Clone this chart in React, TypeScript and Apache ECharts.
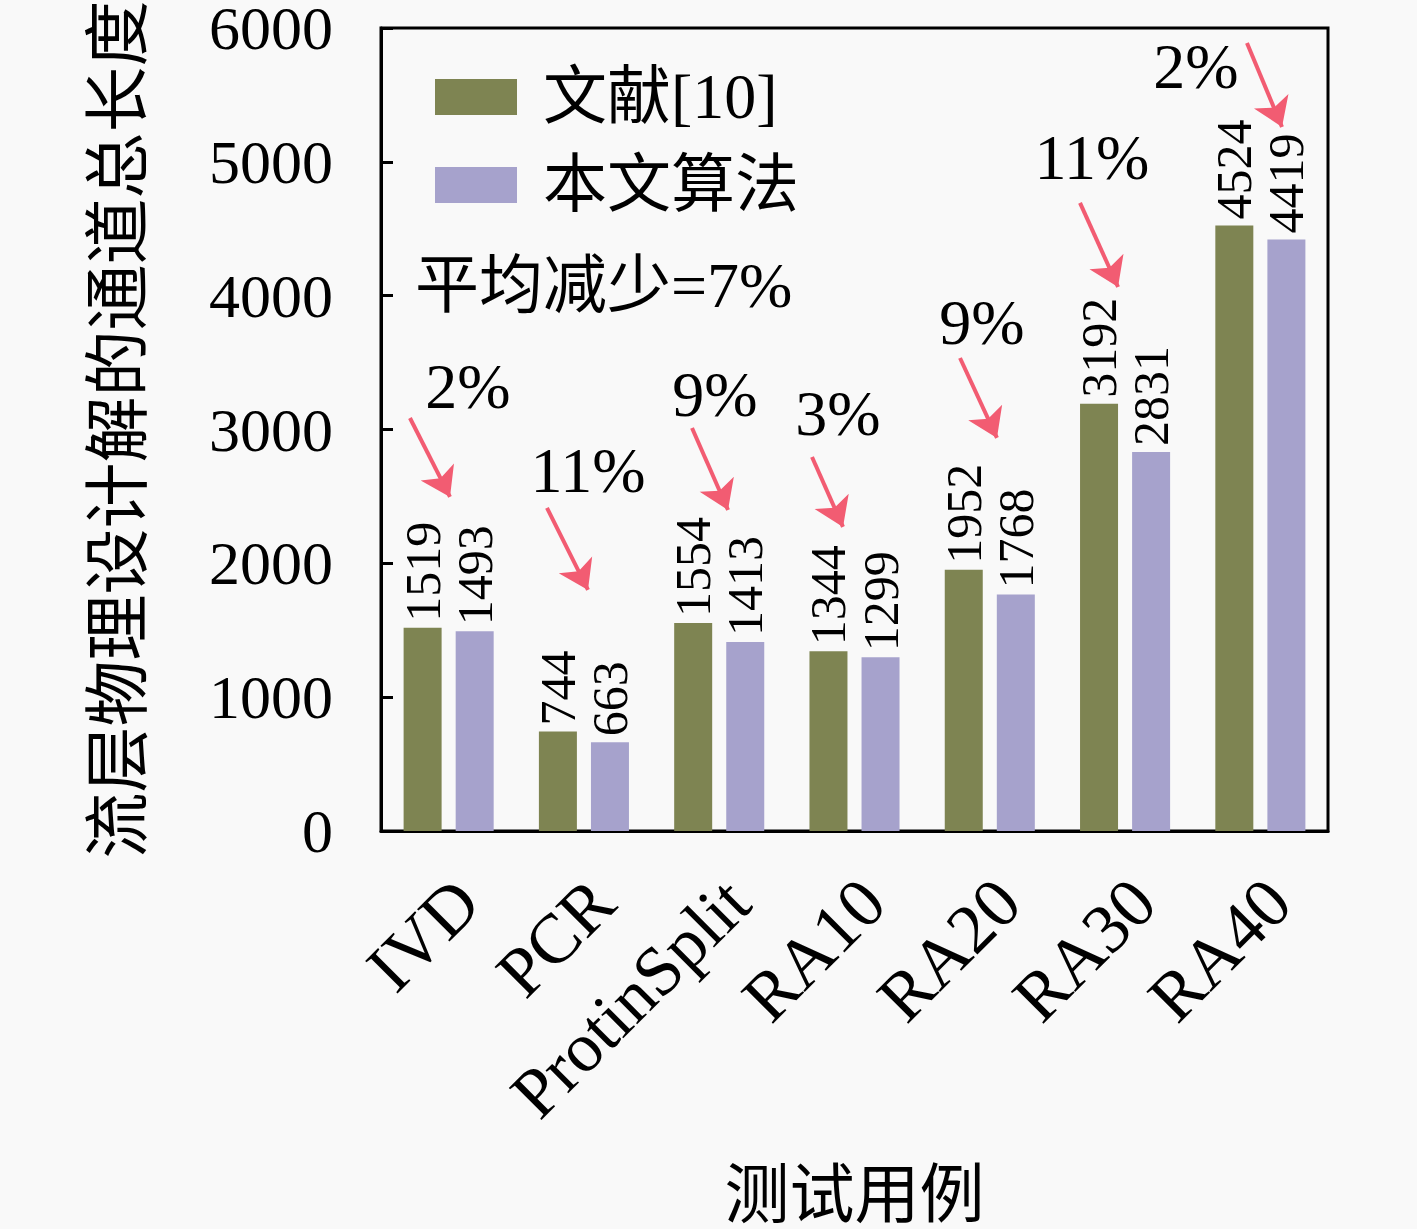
import React, { useEffect, useRef } from "react";
import * as echarts from "echarts";

const categories = ["IVD", "PCR", "ProtinSplit", "RA10", "RA20", "RA30", "RA40"];
const ref10Values = [1519, 744, 1554, 1344, 1952, 3192, 4524];
const oursValues = [1493, 663, 1413, 1299, 1768, 2831, 4419];
const yTicks = { min: 0, max: 6000, interval: 1000 };
const reductionLabels = ["2%", "11%", "9%", "3%", "9%", "11%", "2%"];
// positions in (category-index, value) space
const reductionLabelPos = [
  [0.143, 3318], [1.03, 2690], [1.969, 3258], [2.878, 3116],
  [3.942, 3796], [4.755, 5029], [5.524, 5709],
];
const arrowStart = [
  [-0.286, 3086], [0.727, 2414], [1.799, 3011], [2.686, 2795],
  [3.78, 3534], [4.667, 4693], [5.901, 5888],
];
const arrowEnd = [
  [0.01, 2496], [1.03, 1801], [2.065, 2399], [2.915, 2272],
  [4.053, 2937], [4.948, 4065], [6.16, 5260],
];
const seriesNames = ["文献[10]", "本文算法"];
const averageText = "平均减少=7%";
const xAxisTitle = "测试用例";
const yAxisTitle = "流层物理设计解的通道总长度";

const FONT = "'Liberation Serif', 'Noto Sans CJK SC', serif";
const NUMFONT = "Liberation Serif";
const GREEN = "#7e8452";
const PURPLE = "#a6a2cc";
const ARROW = "#f25c72";

export default function App() {
  const ref = useRef<HTMLDivElement>(null);
  useEffect(() => {
    document.body.style.margin = "0";
    const chart = echarts.init(ref.current!, undefined, { renderer: "svg" });
    const barLabel = () => ({
      show: true,
      position: "top",
      rotate: 90,
      align: "left",
      verticalAlign: "middle",
      distance: 6,
      fontFamily: NUMFONT,
      fontSize: 50,
      color: "#000",
    });
    chart.setOption({
      animation: false,
      backgroundColor: "#f9f9f9",
      textStyle: { fontFamily: FONT },
      grid: {
        left: 381,
        right: 89,
        top: 28,
        bottom: 398,
        outerBoundsMode: "none",
        containLabel: false,
        show: true,
        borderColor: "#000",
        borderWidth: 3,
        backgroundColor: "transparent",
      },
      legend: {
        orient: "vertical",
        left: 430,
        top: 60,
        icon: "rect",
        itemWidth: 82,
        itemHeight: 36,
        itemGap: 24,
        data: seriesNames,
        textStyle: {
          fontFamily: FONT,
          fontSize: 64,
          color: "#000",
          padding: [0, 0, 0, 21],
        },
      },
      xAxis: [
        {
          type: "category",
          data: categories,
          name: xAxisTitle,
          nameLocation: "middle",
          nameGap: 331,
          nameMoveOverlap: false,
          nameTextStyle: { fontFamily: FONT, fontSize: 65, color: "#000" },
          axisLine: { onZero: false, lineStyle: { color: "#000", width: 3 } },
          axisTick: { inside: true, length: 12, lineStyle: { color: "#000", width: 3 } },
          axisLabel: {
            interval: 0,
            rotate: 45,
            margin: 78,
            padding: [0, -26, 0, 0],
            fontFamily: NUMFONT,
            fontSize: 70,
            color: "#000",
          },
        },
        {
          type: "value",
          min: -0.5,
          max: 6.5,
          show: false,
          axisLine: { show: false, onZero: false },
          axisTick: { show: false },
          axisLabel: { show: false },
          splitLine: { show: false },
        },
      ],
      yAxis: {
        type: "value",
        min: yTicks.min,
        max: yTicks.max,
        interval: yTicks.interval,
        name: yAxisTitle,
        nameLocation: "middle",
        nameGap: 230,
        nameMoveOverlap: false,
        nameTextStyle: { fontFamily: FONT, fontSize: 66, color: "#000" },
        axisLine: { show: true, onZero: false, lineStyle: { color: "#000", width: 3 } },
        axisTick: { show: true, inside: true, length: 12, lineStyle: { color: "#000", width: 3 } },
        splitLine: { show: false },
        axisLabel: {
          margin: 48,
          fontFamily: NUMFONT,
          fontSize: 62,
          lineHeight: 50,
          color: "#000",
          formatter: (v: number) => String(v),
        },
      },
      graphic: [
        {
          type: "text",
          x: 415,
          y: 285,
          style: {
            text: averageText,
            fontFamily: FONT,
            fontSize: 64,
            fill: "#000",
            verticalAlign: "middle",
          },
        },
      ],
      series: [
        {
          name: seriesNames[0],
          type: "bar",
          data: ref10Values,
          barWidth: 38,
          barGap: "37%",
          itemStyle: { color: GREEN },
          label: barLabel(),
        },
        {
          name: seriesNames[1],
          type: "bar",
          data: oursValues,
          barWidth: 38,
          itemStyle: { color: PURPLE },
          label: barLabel(),
        },
        {
          type: "lines",
          coordinateSystem: "cartesian2d",
          xAxisIndex: 1,
          yAxisIndex: 0,
          symbol: ["none", "arrow"],
          symbolSize: 28,
          lineStyle: { color: ARROW, width: 4, opacity: 1 },
          data: arrowStart.map((s, i) => ({ coords: [s, arrowEnd[i]] })),
          silent: true,
        },
        {
          type: "scatter",
          xAxisIndex: 1,
          yAxisIndex: 0,
          symbolSize: 1,
          itemStyle: { color: "rgba(0,0,0,0)", opacity: 1 },
          data: reductionLabelPos.map((p, i) => ({ name: reductionLabels[i], value: p })),
          label: {
            show: true,
            position: "inside",
            formatter: "{b}",
            fontFamily: NUMFONT,
            fontSize: 64,
            color: "#000",
            opacity: 1,
          },
          silent: true,
        },
      ],
    });
    return () => chart.dispose();
  }, []);
  return <div ref={ref} style={{ width: 1417, height: 1229 }} />;
}
